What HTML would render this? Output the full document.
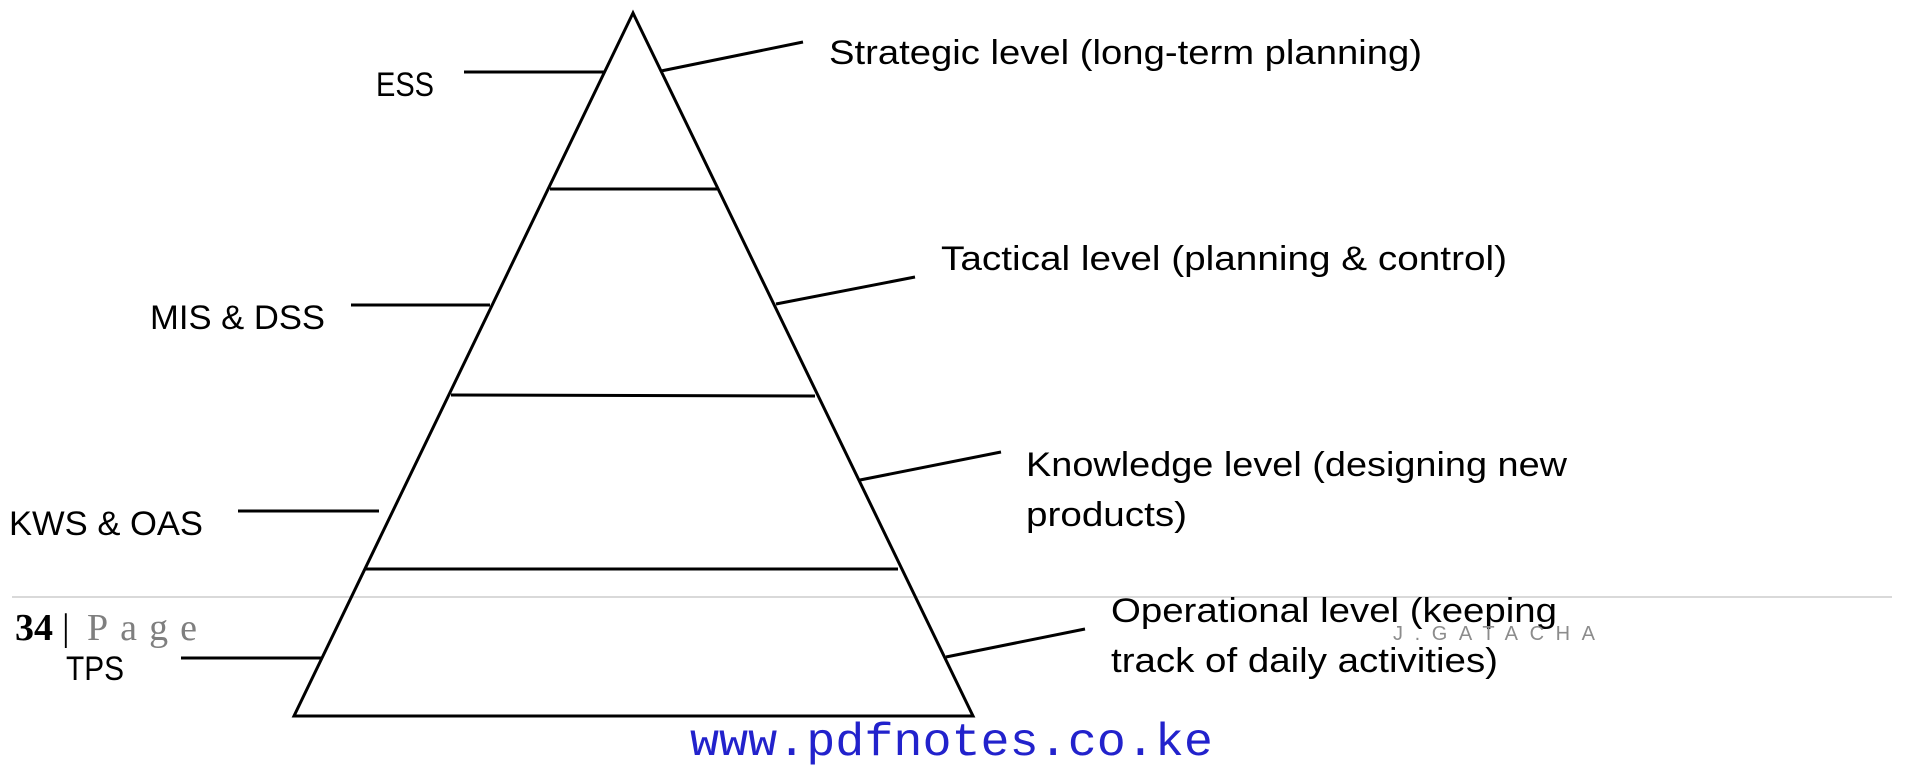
<!DOCTYPE html>
<html><head><meta charset="utf-8"><style>
html,body{margin:0;padding:0;background:#fff;}
svg{display:block;}
.t{font-family:"Liberation Sans",sans-serif;font-size:34px;fill:#000;}
</style></head><body>
<svg width="1914" height="773" viewBox="0 0 1914 773" xmlns="http://www.w3.org/2000/svg">
<line x1="12" y1="597" x2="1892" y2="597" stroke="#d9d9d9" stroke-width="2"/>
<g stroke="#000" stroke-width="3" fill="none">
<polygon points="633,13 294,716 973,716"/>
<line x1="550" y1="189" x2="717" y2="189"/>
<line x1="451" y1="395" x2="815" y2="396"/>
<line x1="364" y1="569" x2="898" y2="569"/>
<line x1="464" y1="72" x2="604" y2="72"/>
<line x1="351" y1="305" x2="490" y2="305"/>
<line x1="238" y1="511" x2="379" y2="511"/>
<line x1="181" y1="658" x2="321" y2="658"/>
<line x1="661" y1="71" x2="803" y2="42"/>
<line x1="776" y1="304" x2="915" y2="277"/>
<line x1="860" y1="480" x2="1001" y2="452"/>
<line x1="946" y1="657" x2="1085" y2="629"/>
</g>
<text class="t" x="376" y="96" textLength="58" lengthAdjust="spacingAndGlyphs">ESS</text>
<text class="t" x="829" y="64" textLength="593" lengthAdjust="spacingAndGlyphs">Strategic level (long-term planning)</text>
<text class="t" x="150" y="329" textLength="175" lengthAdjust="spacingAndGlyphs">MIS &amp; DSS</text>
<text class="t" x="941" y="270" textLength="566" lengthAdjust="spacingAndGlyphs">Tactical level (planning &amp; control)</text>
<text class="t" x="9" y="535" textLength="194" lengthAdjust="spacingAndGlyphs">KWS &amp; OAS</text>
<text class="t" x="1026" y="476" textLength="541" lengthAdjust="spacingAndGlyphs">Knowledge level (designing new</text>
<text class="t" x="1026" y="526" textLength="161" lengthAdjust="spacingAndGlyphs">products)</text>
<text class="t" x="1111" y="622" textLength="446" lengthAdjust="spacingAndGlyphs">Operational level (keeping</text>
<text class="t" x="1111" y="672" textLength="387" lengthAdjust="spacingAndGlyphs">track of daily activities)</text>
<text class="t" x="66" y="680" textLength="58" lengthAdjust="spacingAndGlyphs">TPS</text>
<text x="15" y="640" font-family="Liberation Serif,serif" font-size="38" font-weight="bold" fill="#000">34</text>
<text x="62" y="640" font-family="Liberation Serif,serif" font-size="38" fill="#000">|</text>
<text x="87" y="640" font-family="Liberation Serif,serif" font-size="38" fill="#7f7f7f" textLength="110" lengthAdjust="spacing">Page</text>
<text x="1393" y="640" font-family="Liberation Sans,sans-serif" font-size="20" fill="#8c8c8c" textLength="202" lengthAdjust="spacing">J.GATACHA</text>
<text x="690" y="755" font-family="Liberation Mono,monospace" font-size="46" fill="#2222cc" textLength="523" lengthAdjust="spacingAndGlyphs">www.pdfnotes.co.ke</text>
</svg>
</body></html>
